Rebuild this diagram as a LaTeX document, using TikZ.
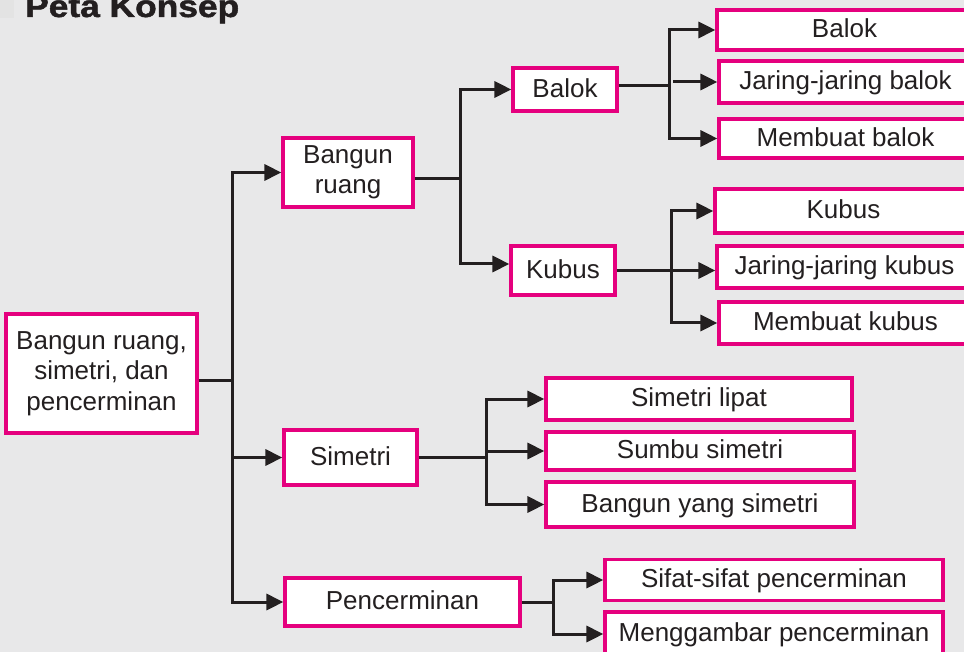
\documentclass[tikz,border=0pt]{standalone}
\usepackage{graphicx}
\usepackage{fontspec}
\setmainfont{Liberation Sans}
\newfontfamily\titlefont[FakeBold=1.5]{Liberation Sans Bold}
\usetikzlibrary{arrows.meta}
\definecolor{pinkb}{HTML}{E5007E}
\definecolor{ink}{HTML}{231F20}
\definecolor{bgg}{HTML}{E8E8E9}
\begin{document}
\begin{tikzpicture}[x=1pt,y=-1pt,
  box/.style={draw=pinkb, line width=3.2pt, fill=white, inner sep=0pt, text=ink,
              font=\fontsize{26}{30.5}\selectfont},
  one/.style={box, text height=20.5pt, text depth=5pt},
  multi/.style={box, align=center},
  conn/.style={draw=ink, line width=3pt},
  spine/.style={conn, line cap=rect},
  arr/.style={conn, -{Triangle[length=17pt,width=16pt]}}]
\useasboundingbox (0,0) rectangle (964,652);
\fill[bgg] (0,0) rectangle (964,652);
\clip (0,0) rectangle (964,652);
\fill[gray!22] (0,0) rectangle (14,18);
\node[anchor=base west, inner sep=0pt, text=ink] (title) at (25,17)
  {\scalebox{1.14}[1]{\fontsize{31}{31}\titlefont Peta Konsep}};

% level 0
\node[multi, minimum width=191pt, minimum height=119pt] (root) at (101.5,373.5)
  {Bangun ruang,\\simetri, dan\\pencerminan};
% level 1
\node[multi, minimum width=130pt, minimum height=69pt] (bangun) at (348,172.5) {Bangun\\ruang};
\node[one, minimum width=133pt, minimum height=55pt] (simetri) at (350.5,457.5) {Simetri};
\node[one, minimum width=235pt, minimum height=48pt] (penc) at (402.5,602) {Pencerminan};
% level 2
\node[one, minimum width=104pt, minimum height=43pt] (balokm) at (565,89.5) {Balok};
\node[one, minimum width=104pt, minimum height=49pt] (kubusm) at (563,270.5) {Kubus};
% leaves
\node[one, minimum width=255pt, minimum height=40pt] (br1) at (844.5,30) {Balok};
\node[one, minimum width=253pt, minimum height=42pt] (br2) at (845.5,82) {Jaring-jaring balok};
\node[one, minimum width=253pt, minimum height=39pt] (br3) at (845.5,138.5) {Membuat balok};
\node[one, minimum width=257pt, minimum height=44pt] (kr1) at (843.5,211) {Kubus};
\node[one, minimum width=255pt, minimum height=42pt] (kr2) at (844.5,267) {Jaring-jaring kubus};
\node[one, minimum width=253pt, minimum height=42pt] (kr3) at (845.5,323) {Membuat kubus};
\node[one, minimum width=306pt, minimum height=42pt] (sl) at (699,399) {Simetri lipat};
\node[one, minimum width=308pt, minimum height=38pt] (ss) at (700,451) {Sumbu simetri};
\node[one, minimum width=308pt, minimum height=45pt] (bys) at (700,504.5) {Bangun yang simetri};
\node[one, minimum width=338pt, minimum height=41pt] (sp) at (774,580) {Sifat-sifat pencerminan};
\node[one, minimum width=338pt, minimum height=44pt] (mp) at (774,634) {Menggambar pencerminan};

% spine positions
\coordinate (s1) at (232,0);
\coordinate (s2) at (460,0);
\coordinate (s3) at (669,0);
\coordinate (s4) at (671,0);
\coordinate (s5) at (486,0);
\coordinate (s6) at (553,0);
\coordinate (rootout) at ([yshift=-6.5pt]root.east);
\coordinate (bangout) at ([yshift=-6.5pt]bangun.east);
\coordinate (kubin) at ([yshift=6.5pt]kubusm.west);
\coordinate (balout) at ([yshift=3.5pt]balokm.east);

% level 1 connectors
\draw[conn] (rootout) -- (rootout -| s1);
\draw[spine] (bangun.west -| s1) -- (penc.west -| s1);
\draw[arr] (bangun.west -| s1) -- (bangun.west);
\draw[arr] (simetri.west -| s1) -- (simetri.west);
\draw[arr] (penc.west -| s1) -- (penc.west);

% bangun ruang
\draw[conn] (bangout) -- (bangout -| s2);
\draw[spine] (balokm.west -| s2) -- (kubin -| s2);
\draw[arr] (balokm.west -| s2) -- (balokm.west);
\draw[arr] (kubin -| s2) -- (kubin);

% balok
\draw[conn] (balout) -- (balout -| s3);
\draw[spine] (br1.west -| s3) -- (br3.west -| s3);
\draw[arr] (br1.west -| s3) -- (br1.west);
\draw[arr] ([xshift=4pt]br2.west -| s3) -- (br2.west);
\draw[arr] (br3.west -| s3) -- (br3.west);

% kubus
\draw[arr] (kubusm.east) -- (kubusm.east -| kr2.west);
\draw[spine] (kr1.west -| s4) -- (kr3.west -| s4);
\draw[arr] (kr1.west -| s4) -- (kr1.west);
\draw[arr] (kr3.west -| s4) -- (kr3.west);

% simetri
\draw[conn] (simetri.east) -- (simetri.east -| s5);
\draw[spine] (sl.west -| s5) -- (bys.west -| s5);
\draw[arr] (sl.west -| s5) -- (sl.west);
\draw[arr] (ss.west -| s5) -- (ss.west);
\draw[arr] (bys.west -| s5) -- (bys.west);

% pencerminan
\draw[conn] (penc.east) -- (penc.east -| s6);
\draw[spine] (sp.west -| s6) -- (mp.west -| s6);
\draw[arr] (sp.west -| s6) -- (sp.west);
\draw[arr] (mp.west -| s6) -- (mp.west);
\end{tikzpicture}
\end{document}
